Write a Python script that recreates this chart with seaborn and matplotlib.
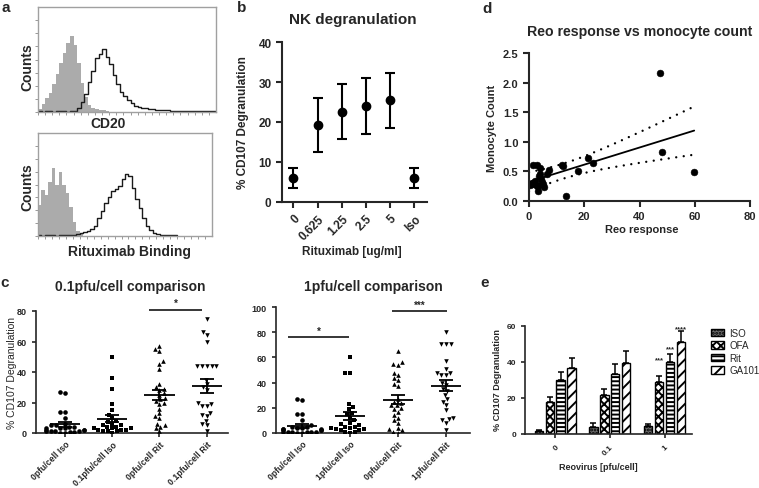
import numpy as np
import pandas as pd
import seaborn as sns
import matplotlib.pyplot as plt
from matplotlib.patches import Patch

sns.set_style("ticks")
plt.rcParams['font.family'] = ['Liberation Sans', 'DejaVu Sans']
plt.rcParams['font.weight'] = 'bold'
plt.rcParams['hatch.linewidth'] = 1.4

W, H = 759, 489

# ---- panel a: flow histograms (bin heights, fraction of box height, bins of 2 units) ----
bin_w = 2
cd20_iso = [0.03, 0.08, 0.13, 0.18, 0.27, 0.36, 0.47, 0.56, 0.66, 0.72,
            0.64, 0.47, 0.28, 0.14, 0.07, 0.04, 0.03, 0.02, 0.02, 0.01]
cd20_ab = [0.005, 0.004, 0.006, 0.005, 0.004, 0.006, 0.005, 0.005, 0.004, 0.006,
           0.01, 0.04, 0.10, 0.17, 0.29, 0.39, 0.51, 0.55, 0.60, 0.52,
           0.46, 0.35, 0.27, 0.19, 0.15, 0.11, 0.085, 0.06, 0.05, 0.04,
           0.035, 0.03, 0.025, 0.02, 0.02, 0.018, 0.015, 0.012, 0.014, 0.01,
           0.01, 0.008, 0.01, 0.007, 0.008, 0.006, 0.007, 0.005, 0.006, 0.005]
rtx_iso = [0.30, 0.45, 0.40, 0.52, 0.66, 0.50, 0.62, 0.50, 0.42, 0.28, 0.14, 0.05, 0.02]
rtx_ab = [0.005, 0.004, 0.006, 0.005, 0.005, 0.004, 0.006, 0.005, 0.005, 0.006,
          0.01, 0.02, 0.03, 0.04, 0.05, 0.07, 0.10, 0.17, 0.24, 0.32,
          0.38, 0.44, 0.46, 0.49, 0.55, 0.60, 0.58, 0.47, 0.36, 0.27,
          0.17, 0.10, 0.06, 0.03, 0.02, 0.01, 0.01, 0.008, 0.01, 0.007]

# ---- panel b: NK degranulation ----
nk_doses = ['0', '0.625', '1.25', '2.5', '5', 'Iso']
nk_mean = [6.0, 19.3, 22.6, 24.0, 25.4, 6.0]
nk_err = [2.4, 6.8, 6.9, 7.0, 6.9, 2.4]

# ---- panel c: dot plots ----
c1_groups = ['0pfu/cell Iso', '0.1pfu/cell Iso', '0pfu/cell Rit', '0.1pfu/cell Rit']
c1_iso0 = [27, 26, 14, 14, 10, 6, 5, 5, 4, 4, 3, 3, 3, 2, 2, 2, 1, 1, 1, 1, 0.5, 0.5, 0, 0]
c1_iso01 = [50, 36, 29, 19, 15, 12, 10, 8, 7, 6, 5, 5, 4, 4, 3, 3, 3, 2, 2, 2, 1, 1, 1, 0]
c1_rit0 = [57, 55, 54, 47, 45, 42, 32, 30, 29, 28, 26, 25, 23, 22, 21, 20, 19, 16, 13, 11,
           10, 6, 5, 4, 3, 1]
c1_rit01 = [75, 66, 64, 60, 44, 44, 44, 44, 44, 35, 32, 30, 28, 20, 19, 18, 18, 13, 12, 11,
            8, 6, 5, 1]

c2_groups = ['0pfu/cell Iso', '1pfu/cell Iso', '0pfu/cell Rit', '1pfu/cell Rit']
c2_iso0 = [27, 26, 15, 15, 10, 6, 5, 5, 4, 4, 3, 3, 3, 2, 2, 2, 1, 1, 1, 1, 0.5, 0.5, 0, 0]
c2_iso1 = [60, 48, 48, 23, 21, 19, 16, 15, 12, 10, 8, 7, 6, 5, 5, 4, 4, 3, 3, 2, 2, 1, 1, 0]
c2_rit0 = [65, 56, 55, 54, 48, 46, 44, 42, 39, 37, 24, 22, 27, 25, 22, 20, 19, 17, 14, 12,
           10, 8, 4, 3, 1, 2, 0]
c2_rit1 = [80, 71, 71, 71, 57, 51, 48, 48, 46, 46, 40, 35, 38, 33, 30, 27, 25, 22, 18, 12,
           11, 10, 8, 2]
markers = ['o', 's', '^', 'v']

# ---- panel d: Reo response vs monocyte count ----
reo_resp = [0.5, 1.0, 1.3, 2.2, 2.5, 3.0, 3.1, 3.4, 3.7, 4.0, 4.0, 4.3, 4.6, 5.2, 5.4,
            6.6, 7.1, 11.8, 12.4, 13.4, 17.7, 21.2, 23.3, 47.4, 48.0, 59.8]
mono_count = [0.27, 0.28, 0.60, 0.33, 0.27, 0.60, 0.17, 0.26, 0.42, 0.55, 0.45, 0.38, 0.32,
              0.29, 0.24, 0.46, 0.52, 0.60, 0.59, 0.08, 0.50, 0.73, 0.64, 2.16, 0.83, 0.49]

# ---- panel e: bars ----
reo_levels = ['0', '0.1', '1']
antibodies = ['ISO', 'OFA', 'Rit', 'GA101']
e_iso = [1.5, 3.7, 4.3]
e_ofa = [17.7, 21.9, 28.8]
e_rit = [30.1, 33.5, 40.0]
e_ga101 = [36.6, 39.6, 51.1]
e_iso_err = [0.8, 2.4, 1.3]
e_ofa_err = [2.8, 3.2, 3.7]
e_rit_err = [4.3, 5.5, 4.6]
e_ga101_err = [5.6, 6.3, 6.1]
e_stars = ['', '***', '***', '****']
e_star_y = [0, 41.5, 47.5, 58.5]


def px_rect(l, t, r, b):
    return [l / W, 1 - b / H, (r - l) / W, (b - t) / H]


def ftext(x, y, s, **kw):
    fig.text(x / W, 1 - y / H, s, ha='center', va='center', **kw)


fig = plt.figure(figsize=(W / 100, H / 100), dpi=100)


def flow_hist(rect, iso, ab):
    ax = fig.add_axes(rect)
    iso_df = pd.DataFrame({'x': np.arange(len(iso)) * bin_w + bin_w / 2, 'h': iso})
    ab_df = pd.DataFrame({'x': np.arange(len(ab)) * bin_w + bin_w / 2, 'h': ab})
    sns.histplot(data=iso_df, x='x', weights='h', binwidth=bin_w, binrange=(0, len(iso) * bin_w),
                 element='step', fill=True, color='#ababab', alpha=1, linewidth=0, ax=ax)
    sns.histplot(data=ab_df, x='x', weights='h', binwidth=bin_w, binrange=(0, len(ab) * bin_w),
                 element='step', fill=False, color='#1a1a1a', linewidth=1.0, ax=ax)
    ax.set_xlim(0, 100)
    ax.set_ylim(0, 1)
    ax.set_xticks(np.arange(0, 100, 4))
    ax.set_yticks(np.arange(0, 1, 0.125))
    ax.tick_params(length=2, width=0.6, color='#888888', labelbottom=False, labelleft=False)
    for s in ax.spines.values():
        s.set_color('#a0a0a0')
        s.set_linewidth(1.0)
    ax.set_xlabel('')
    ax.set_ylabel('')
    return ax


flow_hist(px_rect(38, 8, 216, 113), cd20_iso, cd20_ab)
flow_hist(px_rect(38, 134, 212, 237), rtx_iso, rtx_ab)
ftext(27, 67, 'Counts', fontsize=10, rotation=90)
ftext(27, 187, 'Counts', fontsize=10, rotation=90)
ftext(108, 124, 'CD20', fontsize=10)
ftext(130, 252, 'Rituximab Binding', fontsize=10)

# panel b
ax = fig.add_axes(px_rect(282, 43, 427, 203))
xpos = np.arange(len(nk_doses))
ax.errorbar(xpos, nk_mean, yerr=nk_err, fmt='o', color='black', ms=6,
            capsize=3.5, elinewidth=1.5, capthick=1.5)
ax.set_xlim(-0.47, 5.52)
ax.set_ylim(0, 40)
ax.set_yticks([0, 10, 20, 30, 40])
ax.set_xticks(xpos, nk_doses, rotation=45, ha='right', rotation_mode='anchor')
ax.tick_params(labelsize=8.5, width=1.5, length=4)
sns.despine(ax=ax)
for s in ['left', 'bottom']:
    ax.spines[s].set_linewidth(1.5)
ftext(353, 20, 'NK degranulation', fontsize=11)
ftext(243, 123, '% CD107 Degranulation', fontsize=8.5, rotation=90)
ftext(352, 252, 'Rituximab [ug/ml]', fontsize=8.5)

# panel d
ax = fig.add_axes(px_rect(529, 54, 750, 202))
sns.scatterplot(x=reo_resp, y=mono_count, color='black', s=24, edgecolor='black', ax=ax)
rx = np.array(reo_resp)
my = np.array(mono_count)
slope, icpt = np.polyfit(rx, my, 1)
xl = np.linspace(0, rx.max(), 60)
fit = icpt + slope * xl
resid = my - (icpt + slope * rx)
s_err = np.sqrt(np.sum(resid ** 2) / (len(rx) - 2))
t95 = 2.064  # t(0.975, df=24)
band = t95 * s_err * np.sqrt(1 / len(rx) + (xl - rx.mean()) ** 2 / np.sum((rx - rx.mean()) ** 2))
ax.plot(xl, fit, color='black', lw=1.3)
for sign in [1, -1]:
    ax.plot(xl, fit + sign * band, color='black', lw=1.7, linestyle=(0, (0.01, 3.2)),
            dash_capstyle='round')
ax.set_xlim(0, 80)
ax.set_ylim(0, 2.5)
ax.set_xticks([0, 20, 40, 60, 80])
ax.set_yticks([0, 0.5, 1.0, 1.5, 2.0, 2.5])
ax.tick_params(labelsize=8, width=1.5, length=4)
sns.despine(ax=ax)
for s in ['left', 'bottom']:
    ax.spines[s].set_linewidth(1.5)
ftext(640, 32, 'Reo response vs monocyte count', fontsize=10.2)
ftext(492, 128, 'Monocyte Count', fontsize=8, rotation=90)
ftext(642, 230, 'Reo response', fontsize=8)


# panel c
def dot_panel(rect, groups, values, xlim, ymax):
    ax = fig.add_axes(rect)
    df = pd.DataFrame({'group': np.repeat(groups, [len(v) for v in values]),
                       'val': np.concatenate(values)})
    for g, m in zip(groups, markers):
        sns.swarmplot(data=df[df.group == g], x='group', y='val', order=groups, marker=m,
                      color='black', size=3.3, warn_thresh=1, ax=ax)
    stats = df.groupby('group', sort=False)['val'].agg(['mean', 'sem']).loc[groups]
    xs = np.arange(len(groups))
    ax.hlines(stats['mean'], xs - 0.32, xs + 0.32, color='black', lw=1.3, zorder=5)
    ax.errorbar(xs, stats['mean'], yerr=stats['sem'], fmt='none', ecolor='black',
                capsize=5, elinewidth=1.3, capthick=1.3, zorder=5)
    ax.set_xlim(*xlim)
    ax.set_ylim(0, ymax)
    ax.set_yticks(np.arange(0, ymax + 1, 20))
    ax.set_xticks(xs, groups, rotation=45, ha='right', rotation_mode='anchor')
    ax.tick_params(axis='y', labelsize=6.5, width=1.2, length=3)
    ax.tick_params(axis='x', labelsize=6.2, width=1.2, length=3, pad=1.5)
    ax.set_xlabel('')
    ax.set_ylabel('')
    sns.despine(ax=ax)
    for s in ['left', 'bottom']:
        ax.spines[s].set_linewidth(1.2)
    return ax


ax = dot_panel(px_rect(36, 312, 228, 434), c1_groups,
               [c1_iso0, c1_iso01, c1_rit0, c1_rit01], (-0.61, 3.45), 80)
ax.hlines(80.6, 1.79, 2.9, color='black', lw=1.1, clip_on=False)
ax.text(2.35, 82, '*', ha='center', va='bottom', fontsize=7)
ftext(130, 287, '0.1pfu/cell comparison', fontsize=10)
ftext(12, 373, '% CD107 Degranulation', fontsize=7.5, rotation=90, fontweight='normal')

ax = dot_panel(px_rect(276, 308, 470, 434), c2_groups,
               [c2_iso0, c2_iso1, c2_rit0, c2_rit1], (-0.54, 3.5), 100)
ax.hlines(76, -0.29, 0.98, color='black', lw=1.1)
ax.text(0.35, 77, '*', ha='center', va='bottom', fontsize=7)
ax.hlines(97, 1.875, 3.02, color='black', lw=1.1, clip_on=False)
ax.text(2.45, 98, '***', ha='center', va='bottom', fontsize=7)
ftext(373, 287, '1pfu/cell comparison', fontsize=10)

# panel e
e_vals = [e_iso, e_ofa, e_rit, e_ga101]
e_errs = [e_iso_err, e_ofa_err, e_rit_err, e_ga101_err]
df_e = pd.DataFrame({'reo': reo_levels * len(antibodies),
                     'ab': np.repeat(antibodies, len(reo_levels)),
                     'val': np.concatenate(e_vals)})
ax = fig.add_axes(px_rect(525, 327, 692, 435))
sns.barplot(data=df_e, x='reo', y='val', hue='ab', order=reo_levels, hue_order=antibodies,
            errorbar=None, width=0.8, gap=0.25, legend=False, ax=ax)
faces = ['#6a6a6a', 'white', 'white', 'white']
hatches = ['.....', 'xxxx', '----', '///']
for cont, fc, hat, errs, star, sy in zip(ax.containers, faces, hatches, e_errs, e_stars, e_star_y):
    for bar, er in zip(cont, errs):
        bar.set_facecolor(fc)
        bar.set_edgecolor('black')
        bar.set_hatch(hat)
        bar.set_linewidth(1.0)
        cx = bar.get_x() + bar.get_width() / 2
        ax.errorbar(cx, bar.get_height(), yerr=[[0], [er]], fmt='none', ecolor='black',
                    capsize=2.5, elinewidth=1.1, capthick=1.1)
    if star:
        bar = cont[-1]
        ax.text(bar.get_x() + bar.get_width() / 2, sy, star, ha='center', va='center',
                fontsize=5.5, clip_on=False)
ax.set_xlim(-0.55, 2.5)
ax.set_ylim(0, 60)
ax.set_yticks([0, 20, 40, 60])
ax.set_xticks(range(len(reo_levels)), reo_levels, rotation=45, ha='right', rotation_mode='anchor')
ax.tick_params(labelsize=6, width=1.2, length=3)
ax.set_xlabel('')
ax.set_ylabel('')
sns.despine(ax=ax)
for s in ['left', 'bottom']:
    ax.spines[s].set_linewidth(1.2)
ftext(498, 380, '% CD107 Degranulation', fontsize=6.5, rotation=90)
ftext(598, 468, 'Reovirus [pfu/cell]', fontsize=6.5)
handles = [Patch(facecolor=fc, edgecolor='black', hatch=h, label=a)
           for fc, h, a in zip(faces, hatches, antibodies)]
fig.legend(handles=handles, loc='upper left', bbox_to_anchor=(711 / W, 1 - 329 / H),
           frameon=False, handlelength=1.3, handleheight=0.8,
           handletextpad=0.6, labelspacing=0.25, borderaxespad=0, borderpad=0,
           prop={'weight': 'normal', 'size': 7})

# panel letters
for x, y, s in [(6, 8, 'a'), (242, 8, 'b'), (487, 9, 'd'), (5, 283, 'c'), (485, 283, 'e')]:
    ftext(x, y, s, fontsize=11)

plt.savefig('out.png', dpi=100)
plt.close()
